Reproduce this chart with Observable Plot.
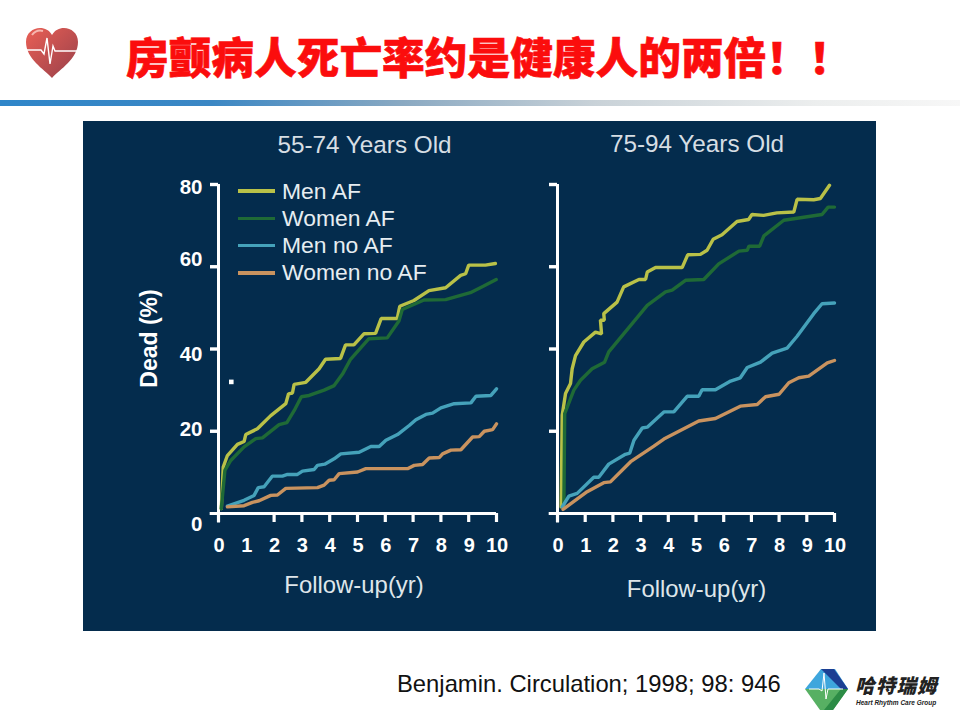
<!DOCTYPE html>
<html lang="zh">
<head>
<meta charset="utf-8">
<script src="https://cdn.jsdelivr.net/npm/d3@7"></script>
<script src="https://cdn.jsdelivr.net/npm/@observablehq/plot@0.6"></script>
<style>
html,body{margin:0;padding:0;background:#fff;width:960px;height:720px;overflow:hidden;font-family:"Liberation Sans",Arial,sans-serif}
.abs{position:absolute}
#title{left:126px;top:27px;width:740px;white-space:nowrap;color:#fb0d0d;font:900 42.7px/56px "Noto Sans CJK SC",sans-serif;-webkit-text-stroke:.6px #fb0d0d}
#bar{left:0;top:100px;width:960px;height:6px;background:linear-gradient(90deg,#2f86c9 0%,#3b87c4 22%,#8aa9c2 42%,#c9d2d8 62%,#eceeee 85%,#f7f7f7 100%)}
#panel{left:83px;top:121px;width:793px;height:510px;background:#042c4d}
#left{left:83px;top:121px}
#right{left:503px;top:121px}
#legend{left:238px;top:177.5px;color:#e6edf1;font-size:22.9px}
#legend div{height:27.3px;line-height:27.3px;display:flex;align-items:center;white-space:nowrap}
#legend i{display:block;width:37px;height:3.5px;margin-right:7px}
#cite{left:397px;top:671px;font-size:23.8px;line-height:26px;color:#111;white-space:nowrap}
#brand{left:855px;top:670px;font:italic 900 19.5px/29px "Noto Sans CJK SC",sans-serif;letter-spacing:1.2px;color:#222;white-space:nowrap}
#sub{left:856px;top:699px;font:italic 700 6.5px/7px "Liberation Sans",sans-serif;color:#222;white-space:nowrap}
</style>
</head>
<body>
<div id="title" class="abs">房颤病人死亡率约是健康人的两倍！！</div>
<svg class="abs" style="left:24px;top:26px" width="56" height="54" viewBox="0 0 56 54">
  <defs><linearGradient id="hg" x1="0" y1="0" x2="1" y2="1"><stop offset="0" stop-color="#ea5f55"/><stop offset="1" stop-color="#97404a"/></linearGradient></defs>
  <path d="M28 52 C20 43 2 33 2 16 C2 7 9 2 16 2 C21 2 25 4 28 9 C31 4 35 2 40 2 C47 2 54 7 54 16 C54 33 36 43 28 52Z" fill="url(#hg)"/>
  <path d="M8 9 C11 5 15 4 19 5" stroke="#f6b7b0" stroke-width="2" fill="none"/>
  <path d="M3 24 H17 L20 28 L23 12 L26 38 L29 20 L31 25 H53" stroke="#fff" stroke-width="1.4" fill="none"/>
</svg>
<div id="bar" class="abs"></div>
<div id="panel" class="abs"></div>
<div id="left" class="abs"></div>
<div id="right" class="abs"></div>
<div id="legend" class="abs"></div>
<div id="cite" class="abs">Benjamin. Circulation; 1998; 98: 946</div>
<svg class="abs" style="left:805px;top:669px" width="44" height="42" viewBox="0 0 44 42">
  <path d="M16 0 H30 L43 20 H0Z" fill="#3ea6dd"/>
  <path d="M16 0 H29 L43 20 H36Z" fill="#1c3f93"/>
  <path d="M0 20 H43 L28 41 H15Z" fill="#57b063"/>
  <path d="M43 20 L28 41 H19 L36 20Z" fill="#2c8c46"/>
  <path d="M4 20 H14 L17 22 L19 4 L21 30 L23 20 H38" stroke="#fff" stroke-width="1" fill="none"/>
</svg>
<div id="brand" class="abs">哈特瑞姆</div>
<div id="sub" class="abs">Heart Rhythm Care Group</div>
<script>
const seriesNames = ["Men AF", "Women AF", "Men no AF", "Women no AF"];
const seriesColors = ["#b9c148", "#1f6a36", "#45a2ba", "#c9935f"];
const panelTitles = ["55-74 Years Old", "75-94 Years Old"];
const xTickLabels = [0,1,2,3,4,5,6,7,8,9,10];
const xTickMarksLeft = [0,2,3,4,5,6,7,8,9,10];
const xTickMarksRight = [0,1,2,3,4,5,6,7,8,9,10];
const yTickLabels = [0,20,40,60,80];
const yTickMarks = [20,40,60,80];
const yLabelNudge = [11,-2,5,-7,3];
const strayMark = [[0.46,32]];

const menAfYoung = [[.1,1.2],[.17,11.3],[.32,14.1],[.68,16.8],[.92,17.5],[.98,19.2],[1.4,20.6],[1.88,23.8],[2.42,26.7],[2.52,29.1],[2.66,29.3],[2.72,31.4],[3.14,31.9],[3.62,35.2],[3.85,37.5],[4.39,37.7],[4.57,41],[4.87,41],[5.23,43.7],[5.65,43.8],[5.85,47.4],[6.43,47.4],[6.52,50.4],[7.03,51.8],[7.57,54.2],[8.17,54.9],[8.71,57.9],[8.89,58.3],[9,60.4],[9.6,60.4],[9.96,60.8]];
const womenAfYoung = [[.1,1.2],[.23,10.5],[.44,12.9],[.92,16.2],[1.34,18.2],[1.58,18.4],[2.18,21.6],[2.46,22.1],[2.72,25],[2.98,28.4],[3.26,28.7],[3.8,30],[4.16,31.1],[4.46,33.9],[4.75,37.5],[5.41,42.5],[6.07,42.7],[6.49,46.8],[6.61,49.6],[7.39,51.9],[8.17,52],[9.06,53.7],[9.54,55.3],[9.99,56.9]];
const menNoYoung = [[.32,1.8],[.92,3.2],[1.28,4.4],[1.43,6.3],[1.64,6.5],[1.94,9.1],[2.3,9.1],[2.48,9.5],[2.84,9.5],[3.02,10.3],[3.44,10.7],[3.56,11.7],[3.82,12],[4.16,13.3],[4.4,14.5],[5.06,14.9],[5.48,16.3],[5.78,16.3],[6.02,17.8],[6.44,19.2],[6.86,21.4],[7.1,22.8],[7.46,24.1],[7.7,24.4],[8,25.7],[8.48,26.7],[9.08,26.9],[9.26,28.5],[9.8,28.7],[10,30.3]];
const womenNoYoung = [[.32,1.6],[.92,1.9],[1.22,2.7],[1.46,3.1],[1.88,4.4],[2.12,4.5],[2.42,6.1],[3.56,6.3],[3.8,6.9],[3.98,8.1],[4.16,8.2],[4.34,9.7],[5,10.1],[5.3,10.9],[6.8,10.9],[7.04,11.7],[7.34,11.9],[7.58,13.5],[7.94,13.6],[8.06,14.5],[8.36,15.4],[8.72,15.5],[9.14,18.6],[9.38,18.7],[9.56,20],[9.86,20.4],[10,21.8]];

const menAfOld = [[.13,1.6],[.17,23.9],[.29,29.2],[.47,31.6],[.53,35.2],[.65,38.4],[.95,41.7],[1.37,44.1],[1.59,43.7],[1.55,47],[1.69,47],[1.67,48.6],[2.15,51.4],[2.39,55.1],[2.94,56.9],[3.18,56.9],[3.24,58.7],[3.54,59.8],[4.5,59.8],[4.7,62.9],[5.16,63],[5.4,64],[5.62,66.7],[5.94,67.8],[6.48,71],[6.9,71.5],[7.02,72.7],[7.44,72.5],[7.92,73.1],[8.53,73.3],[8.65,76.4],[9.25,76.3],[9.49,76.6],[9.82,79.8]];
const womenAfOld = [[.23,1.6],[.26,24.3],[.59,30],[.83,32.4],[1.25,35.2],[1.7,36.8],[1.85,39.3],[3.24,50.6],[3.9,53.9],[4.14,54.3],[4.62,56.7],[5.28,56.9],[5.82,60.7],[6.55,63.8],[6.85,64],[6.91,65],[7.3,65],[7.45,67.5],[8.17,71.3],[9.55,72.7],[9.77,74.5],[10,74.5]];
const menNoOld = [[.17,1.6],[.41,4.2],[.71,4.9],[1.31,8.8],[1.49,8.8],[1.85,12],[2.45,14.4],[2.61,14.7],[2.76,17.8],[3.06,20.8],[3.24,21],[3.84,24.7],[4.2,24.7],[4.68,28.5],[5.1,28.5],[5.22,30.1],[5.7,30.1],[6.25,32.2],[6.6,33],[6.85,35.5],[7.33,36.8],[7.75,39],[8.29,40.2],[8.65,43.1],[9.25,48.6],[9.55,51],[10,51.2]];
const womenNoOld = [[.2,1],[1.07,5.3],[1.67,7.5],[1.91,7.7],[2.64,12.6],[3.48,16.4],[3.84,18.1],[5.1,22.5],[5.7,23.1],[6.6,26.1],[7.21,26.5],[7.51,28.4],[8,29],[8.35,31.8],[8.71,33],[9.07,33.4],[9.74,36.6],[10,37.2]];

const white = "#ffffff";

function panel({series, xTickMarks, title, titleDy, titleDx, xLabel, xLabelDy, xLabelDx, marginLeft, marginRight, width, extra = []}) {
  const rows = series.flatMap((pts, i) => pts.map(([x, y]) => ({x, y, s: seriesNames[i]})));
  return Plot.plot({
    width, height: 510, marginTop: 63, marginBottom: 118, marginLeft, marginRight,
    style: {background: "transparent", overflow: "visible"},
    x: {domain: [0, 10], range: [marginLeft, width - marginRight]},
    y: {domain: [0, 80], range: [392, 63]},
    color: {domain: seriesNames, range: seriesColors},
    marks: [
      Plot.axisX({ticks: xTickMarks, tickSize: 9, tickFormat: () => "", stroke: white, strokeWidth: 3.2, label: null}),
      Plot.axisX({ticks: xTickLabels, tickSize: 0, tickPadding: 24, dx: 0.5, label: null,
        fontSize: 20, fontWeight: 700, fontFamily: "Liberation Sans", color: white}),
      Plot.text([xLabel], {frameAnchor: "bottom", lineAnchor: "middle", dy: xLabelDy, dx: xLabelDx,
        fontSize: 23.9, fontFamily: "Liberation Sans", fill: "#dfe6ea"}),
      Plot.axisY({ticks: yTickMarks, tickSize: 8, tickFormat: () => "", stroke: white, strokeWidth: 3.4, label: null}),
      Plot.ruleY([0], {x1: -0.3, x2: 10, stroke: white, strokeWidth: 3}),
      Plot.ruleX([0], {y1: -2.3, y2: 80, stroke: white, strokeWidth: 3}),
      Plot.line(rows, {x: "x", y: "y", z: "s", stroke: "s", strokeWidth: 3.4, strokeLinejoin: "miter"}),
      Plot.text([title], {frameAnchor: "top", dy: titleDy, dx: titleDx, fontSize: 24.3, fontFamily: "Liberation Sans", fill: "#d6dee4"}),
      ...extra
    ]
  });
}

const yLabelMarks = yTickLabels.map((v, i) =>
  Plot.axisY({ticks: [v], tickSize: 0, tickPadding: 16, dy: yLabelNudge[i], label: null, fontSize: 20.5, fontWeight: 700, fontFamily: "Liberation Sans", color: white})
);
const yTitle = Plot.text(["Dead (%)"], {frameAnchor: "left", textAnchor: "middle", rotate: -90, dx: -69, dy: -10.5, fontSize: 23, fontWeight: 700, fontFamily: "Liberation Sans", fill: white});
const stray = Plot.dot(strayMark, {x: d => d[0], y: d => d[1], symbol: "square", r: 2.6, fill: white});

const leftPlot = panel({
  series: [menAfYoung, womenAfYoung, menNoYoung, womenNoYoung],
  xTickMarks: xTickMarksLeft, title: panelTitles[0], titleDy: -49, titleDx: 7, xLabel: "Follow-up(yr)", xLabelDy: 72, xLabelDx: -3.5,
  marginLeft: 135, marginRight: 7, width: 420,
  extra: [...yLabelMarks, stray, yTitle]
});
const rightPlot = panel({
  series: [menAfOld, womenAfOld, menNoOld, womenNoOld],
  xTickMarks: xTickMarksRight, title: panelTitles[1], titleDy: -50, titleDx: 1, xLabel: "Follow-up(yr)", xLabelDy: 76, xLabelDx: 0.5,
  marginLeft: 54, marginRight: 42, width: 373
});
document.getElementById("left").append(leftPlot);
document.getElementById("right").append(rightPlot);

const lg = d3.select("#legend");
seriesNames.forEach((n, i) => {
  const r = lg.append("div");
  r.append("i").style("background", seriesColors[i]);
  r.append("span").text(n);
});
</script>
</body>
</html>
